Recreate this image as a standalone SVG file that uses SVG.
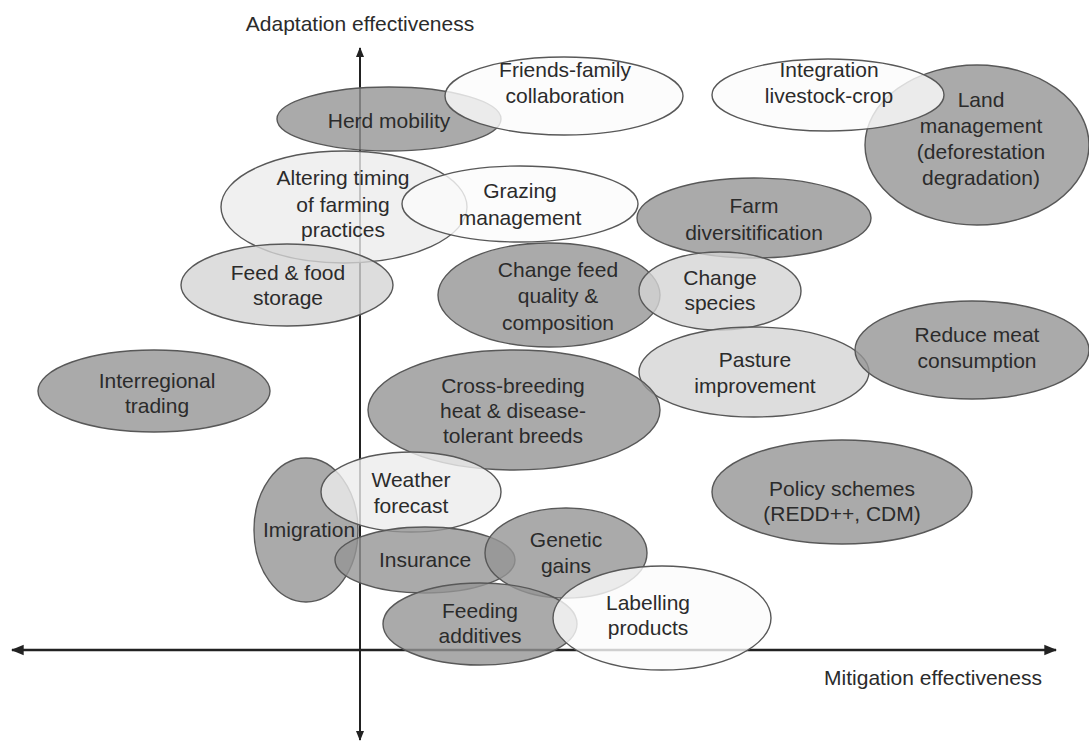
<svg xmlns="http://www.w3.org/2000/svg" width="1089" height="745" viewBox="0 0 1089 745">
<style>
text{font-family:"Liberation Sans",Arial,Helvetica,sans-serif;font-size:21px;fill:#2b2b2b;text-anchor:middle}
ellipse{stroke:#585858;stroke-width:1.4;fill-opacity:0.8}
.dark{fill:#959595}
.light{fill:#d4d4d4}
.pale{fill:#ececec}
.white{fill:#fbfbfb}
.axis{stroke:#222;fill:none}
</style>
<defs>
<marker id="ah" viewBox="0 0 10 10" refX="9" refY="5" markerWidth="5" markerHeight="5" orient="auto-start-reverse" markerUnits="strokeWidth">
<path d="M0,1 L10,5 L0,9 Z" fill="#222"/>
</marker>
</defs>
<rect width="1089" height="745" fill="#fff"/>
<g id="connectors">
<line class="axis" x1="360" y1="740" x2="360" y2="48" stroke-width="2" marker-end="url(#ah)" marker-start="url(#ah)"/>
<line class="axis" x1="12" y1="650" x2="1056" y2="650" stroke-width="2.6" marker-end="url(#ah)" marker-start="url(#ah)"/>
</g>
<text id="y-label" x="360" y="31">Adaptation effectiveness</text>
<text id="x-label" x="933" y="685">Mitigation effectiveness</text>
<g id="herd-mobility"><ellipse class="dark" cx="389" cy="119" rx="112" ry="32"/><text x="389" y="128">Herd mobility</text></g>
<g id="friends-family"><ellipse class="white" cx="564" cy="96" rx="119" ry="39"/><text x="565" y="77">Friends-family</text><text x="565" y="103">collaboration</text></g>
<g id="land-management"><ellipse class="dark" cx="977" cy="145" rx="112" ry="80"/><text x="981" y="107">Land</text><text x="981" y="133">management</text><text x="981" y="159">(deforestation</text><text x="981" y="185">degradation)</text></g>
<g id="integration"><ellipse class="white" cx="828" cy="95" rx="116" ry="36"/><text x="829" y="77">Integration</text><text x="829" y="103">livestock-crop</text></g>
<g id="altering-timing"><ellipse class="pale" cx="344" cy="207" rx="123" ry="56"/><text x="343" y="185">Altering timing</text><text x="343" y="212">of farming</text><text x="343" y="237">practices</text></g>
<g id="grazing-management"><ellipse class="white" cx="520" cy="204" rx="118" ry="38"/><text x="520" y="198">Grazing</text><text x="520" y="225">management</text></g>
<g id="farm-diversification"><ellipse class="dark" cx="754" cy="218" rx="117" ry="40"/><text x="754" y="213">Farm</text><text x="754" y="240">diversitification</text></g>
<g id="feed-food-storage"><ellipse class="light" cx="287" cy="285" rx="106" ry="41"/><text x="288" y="280">Feed &amp; food</text><text x="288" y="305">storage</text></g>
<g id="change-feed"><ellipse class="dark" cx="549" cy="295" rx="111" ry="52"/><text x="558" y="277">Change feed</text><text x="558" y="303">quality &amp;</text><text x="558" y="330">composition</text></g>
<g id="change-species"><ellipse class="light" cx="720" cy="291" rx="81" ry="39"/><text x="720" y="285">Change</text><text x="720" y="310">species</text></g>
<g id="pasture-improvement"><ellipse class="light" cx="754" cy="372" rx="115" ry="45"/><text x="755" y="367">Pasture</text><text x="755" y="393">improvement</text></g>
<g id="reduce-meat"><ellipse class="dark" cx="972" cy="350" rx="117" ry="49"/><text x="977" y="342">Reduce meat</text><text x="977" y="368">consumption</text></g>
<g id="interregional-trading"><ellipse class="dark" cx="154" cy="391" rx="116" ry="41"/><text x="157" y="388">Interregional</text><text x="157" y="413">trading</text></g>
<g id="cross-breeding"><ellipse class="dark" cx="514" cy="410" rx="146" ry="60"/><text x="513" y="393">Cross-breeding</text><text x="513" y="418">heat &amp; disease-</text><text x="513" y="443">tolerant breeds</text></g>
<g id="policy-schemes"><ellipse class="dark" cx="842" cy="492" rx="130" ry="52"/><text x="842" y="496">Policy schemes</text><text x="842" y="521">(REDD++, CDM)</text></g>
<g id="imigration"><ellipse class="dark" cx="306" cy="530" rx="52" ry="72"/><text x="309" y="537">Imigration</text></g>
<g id="weather-forecast"><ellipse class="pale" cx="411" cy="492" rx="90" ry="40"/><text x="411" y="487">Weather</text><text x="411" y="513">forecast</text></g>
<g id="insurance"><ellipse class="dark" cx="425" cy="560" rx="90" ry="33"/><text x="425" y="567">Insurance</text></g>
<g id="genetic-gains"><ellipse class="dark" cx="566" cy="553" rx="81" ry="45"/><text x="566" y="547">Genetic</text><text x="566" y="573">gains</text></g>
<g id="feeding-additives"><ellipse class="dark" cx="480" cy="624" rx="97" ry="41"/><text x="480" y="618">Feeding</text><text x="480" y="643">additives</text></g>
<g id="labelling-products"><ellipse class="white" cx="662" cy="618" rx="109" ry="52"/><text x="648" y="610">Labelling</text><text x="648" y="635">products</text></g>
</svg>
